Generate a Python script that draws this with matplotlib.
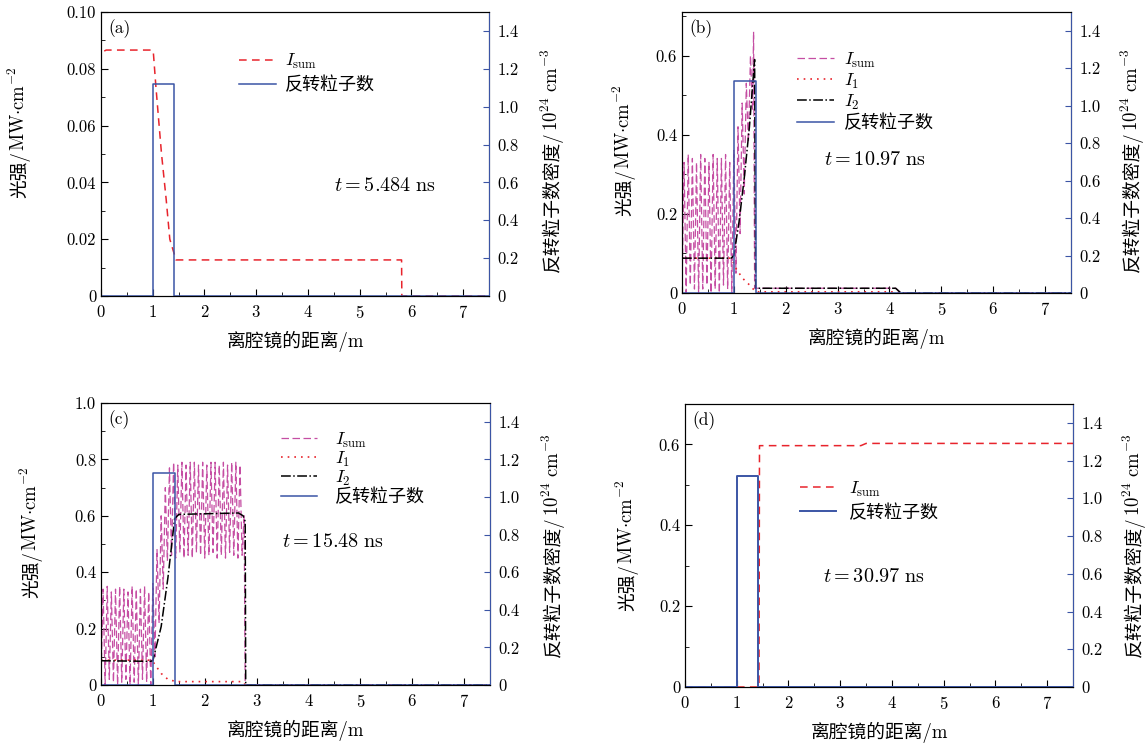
import numpy as np
import matplotlib
matplotlib.use("Agg")
import matplotlib.pyplot as plt
from matplotlib.ticker import MultipleLocator, FuncFormatter

plt.rcParams['font.family'] = ['cmr10', 'Noto Sans CJK SC', 'DejaVu Sans']
plt.rcParams['mathtext.fontset'] = 'cm'
plt.rcParams['axes.formatter.use_mathtext'] = True
plt.rcParams['axes.unicode_minus'] = False

RED = '#e8242c'
MAG = '#c54ea3'
BLUE = '#3b55a5'
W, H = 1147, 749

# ---- population inversion (right axis, 1e24 cm^-3) ----
pop_x = [0.0, 1.0, 1.0, 1.42, 1.42, 7.5]
pop_a = [0.0, 0.0, 1.12, 1.12, 0.0, 0.0]
pop_b = [0.0, 0.0, 1.13, 1.13, 0.0, 0.0]
pop_c = [0.0, 0.0, 1.13, 1.13, 0.0, 0.0]
pop_d = [0.0, 0.0, 1.12, 1.12, 0.0, 0.0]

# ---- (a) t = 5.484 ns ----
a_sum_x = [0.0, 0.005, 0.1, 0.98, 1.01, 1.06, 1.11, 1.17, 1.26, 1.33, 1.45, 5.81, 5.815, 7.5]
a_sum_y = [0.0, 0.0857, 0.0866, 0.0866, 0.0862, 0.074, 0.063, 0.050, 0.034, 0.020, 0.0127,
           0.0127, 0.0, 0.0]

# ---- (b) t = 10.97 ns ----
# interference fringes of I_sum: troughs and peaks read column by column
b_sum_lo = [0.01, 0.0, 0.02, 0.01, 0.0, 0.01, 0.02, 0.0, 0.01, 0.0, 0.02, 0.01, 0.0,
            0.05, 0.15, 0.25, 0.38, 0.46]
b_sum_hi = [0.33, 0.35, 0.34, 0.33, 0.35, 0.34, 0.33, 0.35, 0.34, 0.34, 0.35, 0.33,
            0.36, 0.42, 0.48, 0.53, 0.60]
b_sum_tail_x = [1.38, 1.40, 4.12, 4.22, 7.5]
b_sum_tail_y = [0.66, 0.012, 0.012, 0.0, 0.0]
b_i1_x = [0.0, 0.95, 1.05, 1.17, 1.32, 1.42, 4.12, 4.22, 7.5]
b_i1_y = [0.088, 0.088, 0.06, 0.037, 0.018, 0.003, 0.003, 0.0, 0.0]
b_i2_x = [0.0, 0.95, 1.0, 1.1, 1.2, 1.3, 1.40, 1.42, 4.12, 4.22, 7.5]
b_i2_y = [0.088, 0.088, 0.095, 0.18, 0.29, 0.42, 0.59, 0.012, 0.012, 0.0, 0.0]

# ---- (c) t = 15.48 ns ----
c_sum_lo = [0.01, 0.0, 0.02, 0.01, 0.0, 0.01, 0.02, 0.0, 0.01, 0.0, 0.02, 0.01, 0.0,
            0.10, 0.22, 0.34, 0.44, 0.46, 0.45, 0.47, 0.45, 0.46, 0.45, 0.47, 0.46,
            0.45, 0.46, 0.47, 0.45, 0.46, 0.45, 0.47, 0.46, 0.45, 0.46]
c_sum_hi = [0.34, 0.35, 0.33, 0.34, 0.35, 0.34, 0.33, 0.35, 0.34, 0.34, 0.35, 0.33,
            0.36, 0.48, 0.60, 0.70, 0.77, 0.79, 0.78, 0.79, 0.78, 0.79, 0.79, 0.78,
            0.79, 0.78, 0.79, 0.79, 0.78, 0.79, 0.78, 0.79, 0.79, 0.78, 0.60]
c_sum_tail_x = [2.78, 7.5]
c_sum_tail_y = [0.0, 0.0]
c_i1_x = [0.0, 0.95, 1.0, 1.16, 1.29, 1.45, 2.74, 2.78, 7.5]
c_i1_y = [0.088, 0.088, 0.083, 0.041, 0.02, 0.012, 0.012, 0.0, 0.0]
c_i2_x = [0.0, 0.95, 1.0, 1.16, 1.29, 1.42, 1.5, 2.65, 2.74, 2.78, 2.79, 7.5]
c_i2_y = [0.086, 0.084, 0.086, 0.207, 0.38, 0.59, 0.605, 0.61, 0.60, 0.58, 0.0, 0.0]

# ---- (d) t = 30.97 ns ----
d_sum_x = [0.0, 1.43, 1.44, 3.4, 3.5, 7.5]
d_sum_y = [0.0, 0.0, 0.597, 0.597, 0.6025, 0.6025]

FRINGE_STEP = 0.04  # spacing between a trough and the next peak (m)


def fringe(lo, hi, tail_x, tail_y):
    n = len(lo) + len(hi)
    y = np.empty(n)
    y[0::2] = lo
    y[1::2] = hi
    x = np.arange(n) * FRINGE_STEP
    return np.concatenate([x, tail_x]), np.concatenate([y, tail_y])


def fmt(dec):
    return FuncFormatter(lambda v, p: '0' if abs(v) < 1e-9 else f'{v:.{dec}f}')


def vlabel(fig, x_px, yc_px, pieces, fs=13.5):
    # rotated label made of a CJK part and a mathtext part, joined on one baseline
    r = fig.canvas.get_renderer()
    texts = [fig.text(0, 0, s, rotation=90, rotation_mode='anchor', ha='left',
                      va='baseline', fontsize=fs) for s in pieces]
    lens = [t.get_window_extent(r).height for t in texts]
    y0 = yc_px + sum(lens) / 2
    for t, L in zip(texts, lens):
        t.set_position((x_px / W, 1 - y0 / H))
        y0 -= L


def setup(ax, ymax, ymajor, dec, label):
    ax.set_xlim(0, 7.5)
    ax.set_ylim(0, ymax)
    ax.xaxis.set_major_locator(MultipleLocator(1))
    ax.xaxis.set_minor_locator(MultipleLocator(0.5))
    ax.yaxis.set_major_locator(MultipleLocator(ymajor))
    ax.yaxis.set_minor_locator(MultipleLocator(ymajor / 2))
    ax.yaxis.set_major_formatter(fmt(dec))
    ax.tick_params(which='both', direction='in', top=False, right=False, labelsize=12)
    ax.tick_params(which='major', length=5)
    ax.tick_params(which='minor', length=3)
    ax.tick_params(axis='x', pad=6)
    ax.set_xlabel('离腔镜的距离/m', fontsize=13.5, labelpad=7)
    ax.text(0.018, 0.975, label, transform=ax.transAxes, fontsize=12.5, va='top', ha='left')
    ax2 = ax.twinx()
    ax2.set_ylim(0, 1.5)
    ax2.yaxis.set_major_locator(MultipleLocator(0.2))
    ax2.yaxis.set_major_formatter(fmt(1))
    ax2.tick_params(direction='in', length=4, color=BLUE, labelsize=12, pad=6)
    ax2.spines['right'].set_color(BLUE)
    return ax2


fig = plt.figure(figsize=(W / 100, H / 100), dpi=100)

pos = {
    'a': [101 / W, 1 - 296 / H, 388 / W, 284 / H],
    'b': [682 / W, 1 - 293 / H, 389 / W, 281 / H],
    'c': [101 / W, 1 - 685 / H, 389 / W, 282 / H],
    'd': [685 / W, 1 - 687 / H, 388 / W, 283 / H],
}

LEFT_LAB = ['光强/', '$\\mathrm{MW{\\cdot}cm^{-2}}$']
RIGHT_LAB = ['反转粒子数密度/', '$\\mathrm{10^{24}\\ cm^{-3}}$']

# (a)
ax = fig.add_axes(pos['a'])
ax2 = setup(ax, 0.10, 0.02, 2, '(a)')
h1, = ax.plot(a_sum_x, a_sum_y, color=RED, lw=1.1, dashes=(5, 3.5), label='$I_{\\mathrm{sum}}$')
h2, = ax2.plot(pop_x, pop_a, color=BLUE, lw=1.1, label='反转粒子数')
ax.legend(handles=[h1, h2], loc='upper left', bbox_to_anchor=(0.315, 0.915), frameon=False,
          fontsize=13, handlelength=2.0, handletextpad=0.5, labelspacing=0.25)
ax.text(0.6, 0.37, '$t = 5.484\\ \\mathrm{ns}$', transform=ax.transAxes, fontsize=14.5)
vlabel(fig, 25, 132, LEFT_LAB)
vlabel(fig, 558, 160, RIGHT_LAB)

# (b)
ax = fig.add_axes(pos['b'])
ax2 = setup(ax, 0.71, 0.2, 1, '(b)')
bx, by = fringe(b_sum_lo, b_sum_hi, b_sum_tail_x, b_sum_tail_y)
h1, = ax.plot(bx, by, color=MAG, lw=0.9, dashes=(6, 2.8), label='$I_{\\mathrm{sum}}$')
h2, = ax.plot(b_i1_x, b_i1_y, color=RED, lw=1.2, dashes=(1, 3), label='$I_1$')
h3, = ax.plot(b_i2_x, b_i2_y, color='black', lw=1.1, linestyle='-.', label='$I_2$')
h4, = ax2.plot(pop_x, pop_b, color=BLUE, lw=1.1, label='反转粒子数')
ax.legend(handles=[h1, h2, h3, h4], loc='upper left', bbox_to_anchor=(0.255, 0.92),
          frameon=False, fontsize=13, handlelength=2.0, handletextpad=0.6, labelspacing=0.1)
ax.text(0.365, 0.455, '$t = 10.97\\ \\mathrm{ns}$', transform=ax.transAxes, fontsize=14.5)
vlabel(fig, 630, 150, LEFT_LAB)
vlabel(fig, 1138, 160, RIGHT_LAB)

# (c)
ax = fig.add_axes(pos['c'])
ax2 = setup(ax, 1.0, 0.2, 1, '(c)')
cx, cy = fringe(c_sum_lo, c_sum_hi, c_sum_tail_x, c_sum_tail_y)
h1, = ax.plot(cx, cy, color=MAG, lw=0.9, dashes=(6, 2.8), label='$I_{\\mathrm{sum}}$')
h2, = ax.plot(c_i1_x, c_i1_y, color=RED, lw=1.2, dashes=(1, 3), label='$I_1$')
h3, = ax.plot(c_i2_x, c_i2_y, color='black', lw=1.1, linestyle='-.', label='$I_2$')
h4, = ax2.plot(pop_x, pop_c, color=BLUE, lw=1.1, label='反转粒子数')
ax.legend(handles=[h1, h2, h3, h4], loc='upper left', bbox_to_anchor=(0.42, 0.96),
          frameon=False, fontsize=13, handlelength=2.0, handletextpad=1.0, labelspacing=0.0)
ax.text(0.465, 0.49, '$t = 15.48\\ \\mathrm{ns}$', transform=ax.transAxes, fontsize=14.5)
vlabel(fig, 37, 532, LEFT_LAB)
vlabel(fig, 559, 545, RIGHT_LAB)

# (d)
ax = fig.add_axes(pos['d'])
ax2 = setup(ax, 0.70, 0.2, 1, '(d)')
h1, = ax.plot(d_sum_x, d_sum_y, color=RED, lw=1.1, dashes=(5, 3.5), label='$I_{\\mathrm{sum}}$')
h2, = ax2.plot(pop_x, pop_d, color=BLUE, lw=1.4, label='反转粒子数')
ax.legend(handles=[h1, h2], loc='upper left', bbox_to_anchor=(0.255, 0.79), frameon=False,
          fontsize=13, handlelength=2.0, handletextpad=0.7, labelspacing=0.25)
ax.text(0.355, 0.37, '$t = 30.97\\ \\mathrm{ns}$', transform=ax.transAxes, fontsize=14.5)
vlabel(fig, 633, 545, LEFT_LAB)
vlabel(fig, 1140, 545, RIGHT_LAB)

fig.savefig('out.png', dpi=100)
